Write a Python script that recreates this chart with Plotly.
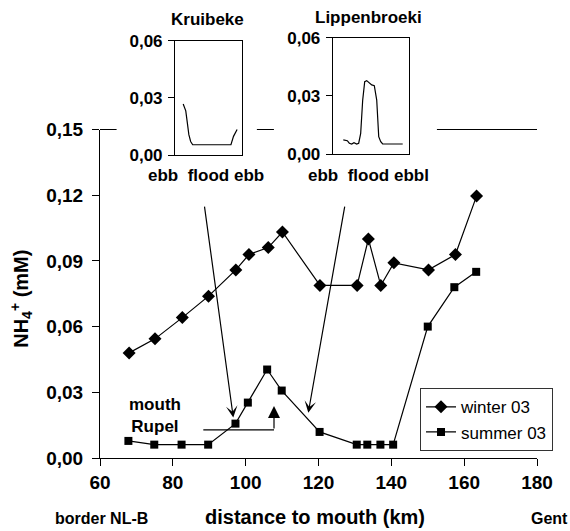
import plotly.graph_objects as go

# ---------------- data ----------------
winter_km = [68.0, 75.1, 82.6, 89.8, 97.3, 100.9, 106.2, 110.1, 120.4, 130.6, 133.7, 137.1, 140.7, 150.2, 157.6, 163.4]
winter_nh4 = [0.048, 0.0544, 0.0641, 0.0739, 0.0859, 0.0929, 0.0961, 0.1032, 0.0788, 0.0788, 0.100, 0.0788, 0.0891, 0.0859, 0.0929, 0.1196]

summer_km = [67.8, 74.9, 82.4, 89.7, 97.2, 100.6, 105.9, 109.9, 120.3, 130.5, 133.4, 137.0, 140.5, 150.0, 157.3, 163.3]
summer_nh4 = [0.0078, 0.0061, 0.0061, 0.0061, 0.0157, 0.0253, 0.0404, 0.0308, 0.0119, 0.0061, 0.0061, 0.0061, 0.0061, 0.060, 0.078, 0.085]

kruibeke_h = [1.6, 2.1, 2.4, 2.7, 3.05, 3.45, 10.9, 11.4, 12.1]
kruibeke_nh4 = [0.0268, 0.0232, 0.0170, 0.0107, 0.0071, 0.0054, 0.0054, 0.0098, 0.0134]

lippen_h = [1.80, 2.48, 2.82, 3.22, 3.61, 4.07, 4.41, 4.75, 5.09, 5.43, 5.77, 6.21, 6.62, 7.06, 7.47, 7.81, 8.15, 8.48, 11.88]
lippen_nh4 = [0.0074, 0.0070, 0.0057, 0.0053, 0.0060, 0.0053, 0.0057, 0.0108, 0.0279, 0.0374, 0.0379, 0.0365, 0.0357, 0.0353, 0.0279, 0.0091, 0.0065, 0.0053, 0.0053]

x_ticks = [60, 80, 100, 120, 140, 160, 180]
y_ticks = [0.00, 0.03, 0.06, 0.09, 0.12, 0.15]
inset_ticks = [0.00, 0.03, 0.06]

FONT = "Liberation Sans, Arial, Helvetica, sans-serif"
BOLD = dict(family=FONT, weight="bold", color="black")

fig = go.Figure()

fig.add_trace(go.Scatter(
    x=winter_km, y=winter_nh4, mode="lines+markers", name="winter 03",
    line=dict(color="black", width=1.2),
    marker=dict(symbol="diamond", size=10, color="black"),
    xaxis="x", yaxis="y"))
fig.add_trace(go.Scatter(
    x=summer_km, y=summer_nh4, mode="lines+markers", name="summer 03",
    line=dict(color="black", width=1.2),
    marker=dict(symbol="square", size=8, color="black"),
    xaxis="x", yaxis="y"))

fig.add_trace(go.Scatter(
    x=kruibeke_h, y=kruibeke_nh4, mode="lines", showlegend=False,
    line=dict(color="black", width=1.2), xaxis="x2", yaxis="y2"))
fig.add_trace(go.Scatter(
    x=lippen_h, y=lippen_nh4, mode="lines", showlegend=False,
    line=dict(color="black", width=1.2), xaxis="x3", yaxis="y3"))

main_top = (458 - 129.5) / 428

inset_axis_common = dict(showline=True, linecolor="black", linewidth=1, mirror=True,
                         showgrid=False, zeroline=False)

fig.update_layout(
    width=570, height=531,
    margin=dict(l=100, r=33, t=30, b=73),
    paper_bgcolor="white", plot_bgcolor="rgba(0,0,0,0)",
    separators=", ",
    font=dict(family=FONT, color="black"),
    xaxis=dict(range=[60, 180], domain=[0, 1], tickvals=x_ticks, tickformat="d",
               showline=True, linecolor="black", linewidth=1,
               ticks="outside", ticklen=7, tickwidth=1, tickcolor="black",
               tickfont=dict(size=19, **BOLD), ticklabelstandoff=0,
               showgrid=False, zeroline=False),
    yaxis=dict(range=[0, 0.15], domain=[0, main_top], tickvals=y_ticks, tickformat=".2f",
               showline=True, linecolor="black", linewidth=1,
               ticks="outside", ticklen=7, tickwidth=1, tickcolor="black",
               tickfont=dict(size=19, **BOLD), ticklabelstandoff=5,
               showgrid=False, zeroline=False),
    xaxis2=dict(range=[0, 13], domain=[0.1716, 0.3243], anchor="y2",
                showticklabels=False, ticks="", **inset_axis_common),
    yaxis2=dict(range=[0, 0.06], domain=[0.7079, 0.9750], anchor="x2",
                tickvals=inset_ticks, tickformat=".2f", ticks="outside", ticklen=6,
                tickcolor="black", tickfont=dict(size=17, **BOLD), ticklabelstandoff=2,
                **inset_axis_common),
    xaxis3=dict(range=[0, 13], domain=[0.5325, 0.7078], anchor="y3",
                showticklabels=False, ticks="", **inset_axis_common),
    yaxis3=dict(range=[0, 0.06], domain=[0.7096, 0.9820], anchor="x3",
                tickvals=inset_ticks, tickformat=".2f", ticks="outside", ticklen=6,
                tickcolor="black", tickfont=dict(size=17, **BOLD), ticklabelstandoff=2,
                **inset_axis_common),
    legend=dict(x=0.7323, y=0.1629, xanchor="left", yanchor="top",
                bordercolor="#333", borderwidth=1, bgcolor="white",
                font=dict(family=FONT, size=17, color="black"),
                entrywidth=100, entrywidthmode="pixels"),
    showlegend=True,
)

# top frame segments (interrupted by the insets)
for x0, x1 in [(0, 0.038), (0.359, 0.398), (0.771, 1.0)]:
    fig.add_shape(type="line", xref="paper", yref="paper", x0=x0, x1=x1,
                  y0=main_top, y1=main_top, line=dict(color="black", width=1))

# mouth Rupel bracket line
fig.add_shape(type="line", xref="x", yref="y", x0=88.37, x1=107.78, y0=0.0128, y1=0.0128,
              line=dict(color="black", width=1.2))

def label(text, x, y, size, xref="paper", yref="paper", **kw):
    return dict(text=text, x=x, y=y, xref=xref, yref=yref, showarrow=False,
                xanchor="center", yanchor="middle", font=dict(size=size, **BOLD), **kw)

annotations = [
    label("Kruibeke", 0.2455, 1.0257, 17),
    label("Lippenbroeki", 0.614, 1.0297, 17),
    label("ebb  flood ebb", 0.2426, 0.6612, 17),
    label("ebb  flood ebbl", 0.614, 0.6612, 17),
    label("NH<sub>4</sub><sup>+</sup> (mM)", -0.179, 0.3715, 20, textangle=-90),
    label("distance to mouth (km)", 0.492, -0.137, 20),
    label("border NL-B", 0.0039, -0.1425, 16),
    label("Gent", 1.0297, -0.1425, 16),
    label("mouth<br>Rupel", 75.2, 0.0192, 17, xref="x", yref="y", align="center"),
    # arrows from insets
    dict(x=96.6, y=0.0185, ax=88.64, ay=0.1155, xref="x", yref="y", axref="x", ayref="y",
         text="", showarrow=True, arrowhead=3, arrowsize=1.6, arrowwidth=1.2, arrowcolor="black"),
    dict(x=117.2, y=0.0207, ax=127.27, ay=0.1155, xref="x", yref="y", axref="x", ayref="y",
         text="", showarrow=True, arrowhead=3, arrowsize=1.6, arrowwidth=1.2, arrowcolor="black"),
    # mouth Rupel arrow
    dict(x=107.78, y=0.0237, ax=107.78, ay=0.0128, xref="x", yref="y", axref="x", ayref="y",
         text="", showarrow=True, arrowhead=2, arrowsize=2, arrowwidth=1.2, arrowcolor="black"),
]
fig.update_layout(annotations=annotations)

fig.write_html("out.html", config={"displayModeBar": False},
               post_script="document.body.style.margin='0';")
